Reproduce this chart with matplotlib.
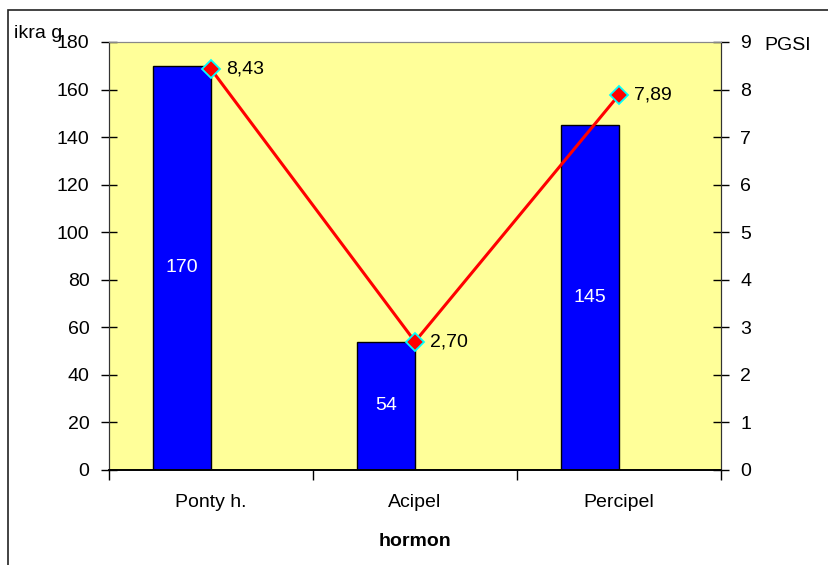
import numpy as np
import matplotlib.pyplot as plt
from matplotlib.patches import Rectangle

plt.rcParams['font.family'] = ['Liberation Sans', 'DejaVu Sans']

# data
hormones = ['Ponty h.', 'Acipel', 'Percipel']
ikra = [170, 54, 145]
pgsi = [8.43, 2.70, 7.89]
pgsi_labels = ['8,43', '2,70', '7,89']

FS = 14

fig = plt.figure(figsize=(8.29, 5.65), dpi=100, facecolor='white')
# outer frame (cropped at right / bottom like the original)
fig.patches.append(Rectangle((8 / 829, -0.1), 1.2, 1 - 10 / 565 + 0.1,
                             transform=fig.transFigure, fill=False,
                             edgecolor='#222222', linewidth=1.2))

ax = fig.add_axes([109 / 829, 1 - 470 / 565, 612 / 829, 428 / 565])
ax.set_facecolor('#FFFF99')

x = np.arange(len(hormones))
bw = 0.285
# bars sit left of the category centre (excel style)
ax.bar(x, ikra, width=-bw, align='edge', color='#0000FF', edgecolor='black',
       linewidth=1, zorder=2)
for xi, v in zip(x, ikra):
    ax.text(xi - bw / 2, v / 2, str(v), color='white', fontsize=FS,
            ha='center', va='center', zorder=3)

ax.set_xlim(-0.5, 2.5)
ax.set_ylim(0, 180)
ax.set_yticks(np.arange(0, 181, 20))
ax.set_xticks(x)
ax.set_xticklabels(hormones)
ax.set_xticks([-0.5, 0.5, 1.5, 2.5], minor=True)
ax.tick_params(axis='x', which='major', length=0, pad=17.5, labelsize=FS)
ax.tick_params(axis='x', which='minor', length=7, direction='out', width=1)
ax.tick_params(axis='y', direction='inout', length=12, width=1, pad=8, labelsize=FS)
ax.set_xlabel('hormon', fontsize=FS, fontweight='bold', labelpad=15.5)

ax2 = ax.twinx()
ax2.set_ylim(0, 9)
ax2.set_yticks(np.arange(0, 10, 1))
ax2.tick_params(axis='y', direction='inout', length=12, width=1, pad=8, labelsize=FS)
ax2.plot(x, pgsi, color='red', linewidth=2.2, marker='D', markersize=9.5,
         markerfacecolor='red', markeredgecolor='cyan', markeredgewidth=1.3, zorder=4)
for xi, v, lab in zip(x, pgsi, pgsi_labels):
    ax2.text(xi + 0.075, v, lab, fontsize=FS, ha='left', va='center')

for a in (ax, ax2):
    a.spines['top'].set_color('#888888')
    a.spines['left'].set_color('#333333')
    a.spines['right'].set_color('#333333')
    a.spines['bottom'].set_color('black')
    a.spines['bottom'].set_linewidth(1.2)

fig.text(14 / 829, 1 - 33 / 565, 'ikra g', fontsize=FS, ha='left', va='center')
fig.text(764 / 829, 1 - 46 / 565, 'PGSI', fontsize=FS, ha='left', va='center')

fig.savefig('out.png', dpi=100)
